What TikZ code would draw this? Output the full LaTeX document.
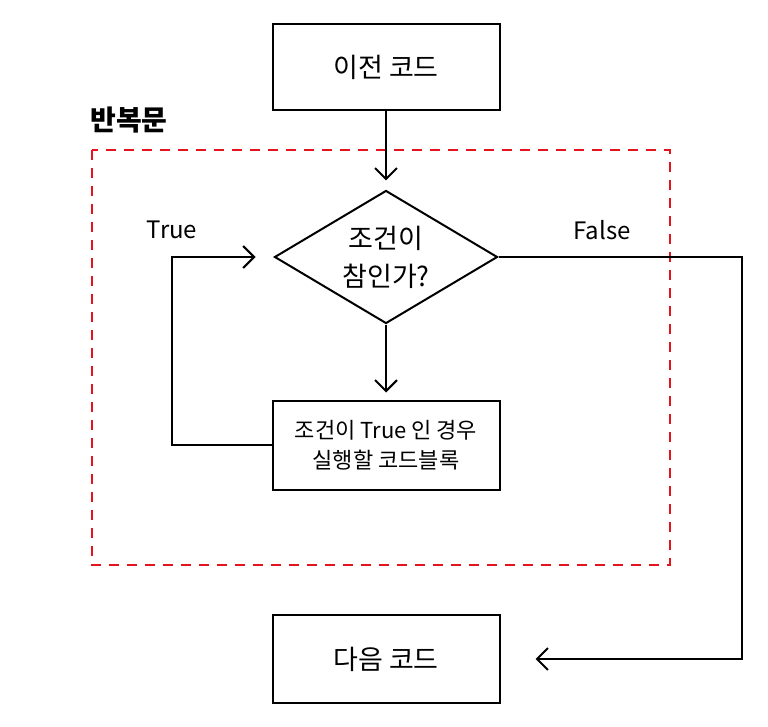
\documentclass[tikz,border=0pt]{standalone}
\usepackage{fontspec}
\setmainfont{Noto Sans CJK KR}
\definecolor{loopred}{RGB}{228, 20, 30}
\usetikzlibrary{arrows.meta, shapes.geometric}

\begin{document}
\begin{tikzpicture}[x=1pt, y=-1pt,
  box/.style={rectangle, draw, line width=2pt, align=center,
              minimum width=227pt, minimum height=86pt,
              font=\fontsize{27}{32}\selectfont},
  cond/.style={diamond, draw, line width=2pt, align=center, inner sep=0pt,
               aspect=1.68, minimum width=223pt, minimum height=133pt,
               font=\fontsize{27}{38}\selectfont},
  arr/.style={line width=2pt, -{Straight Barb[length=11pt, width=22pt]}},
  lbl/.style={font=\fontsize{24}{28}\selectfont},
]
\useasboundingbox (0,0) rectangle (768,727);

% Loop boundary
\draw[loopred, line width=2pt, dash pattern=on 10pt off 8pt]
  (92,150) rectangle (670,565);
\node[lbl, font=\bfseries\fontsize{28}{32}\selectfont] (looplbl) at (129,120) {반복문};

% Nodes
\node[box] (prev) at (386,67) {이전 코드};
\node[cond] (test) at (386,257) {조건이\\참인가?};
\node[box, minimum height=89pt, font=\fontsize{22}{30}\selectfont]
  (body) at (386,445) {조건이 True 인 경우\\실행할 코드블록};
\node[box, minimum height=88pt] (next) at (386,659) {다음 코드};

% Branch labels
\node[lbl] (truelbl) at (172,230) {True};
\node[lbl] (falselbl) at (602,230) {False};

% Corners
\coordinate (tl) at (172,445);
\coordinate (tr) at (742,257);
\coordinate (br) at (742,659);

% Flow
\draw[arr, shorten >=9pt] (prev) -- (test);
\draw[arr, shorten >=7pt] (test) -- (body);
\draw[arr, shorten >=18pt] (body.west) -- (tl) |- (test.west);
\draw[arr, shorten >=35pt] (test.east) -- (tr) -- (br) -- (next.east);
\end{tikzpicture}
\end{document}
